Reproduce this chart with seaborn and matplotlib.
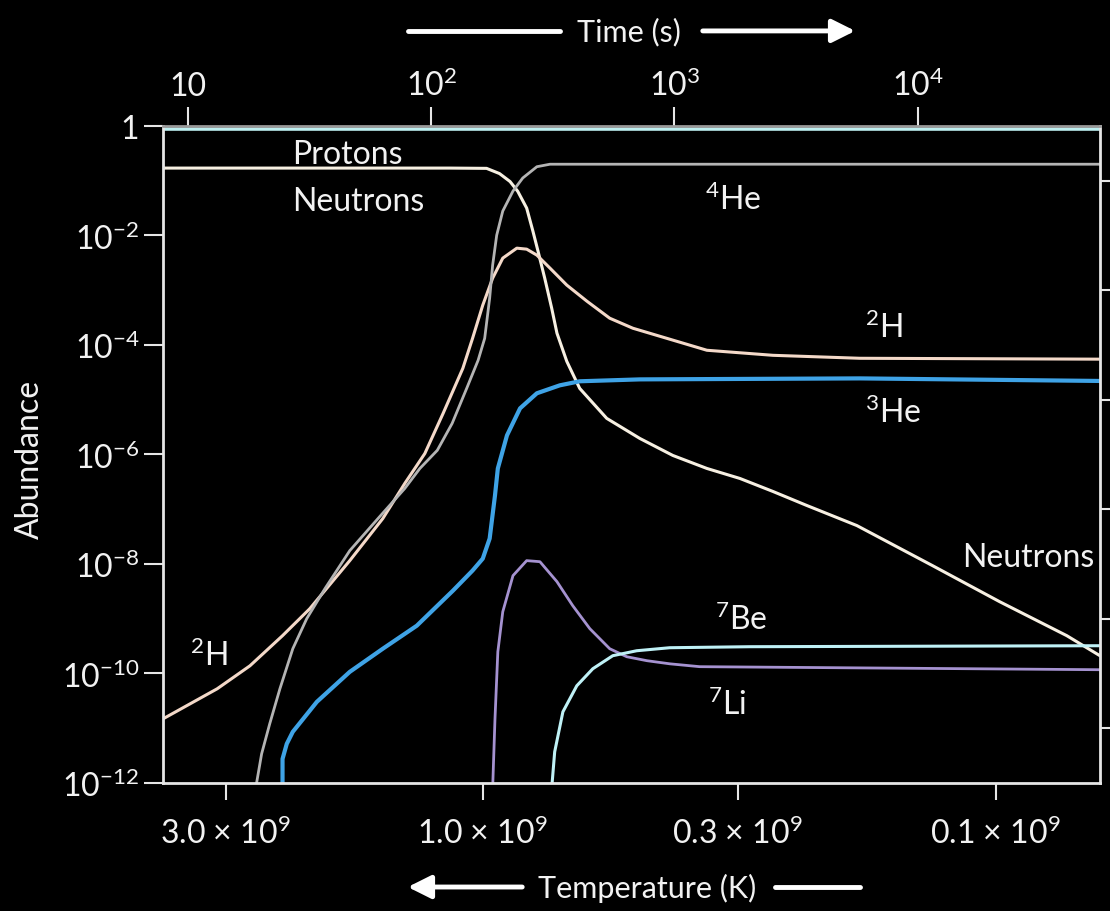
import matplotlib
matplotlib.use("Agg")
import matplotlib.pyplot as plt
import seaborn as sns
import pandas as pd
import numpy as np

# black background, no grid
sns.set_style("dark", {"axes.facecolor": "black", "figure.facecolor": "black",
                       "axes.grid": False})
plt.rcParams['font.family'] = ['Lato', 'DejaVu Sans']
plt.rcParams['mathtext.default'] = 'regular'

# ---- data (time in s, abundance) ----
protons_t = [7.9, 56100]
protons_y = [0.88, 0.88]

neutrons_t = [7.9, 119, 169, 191, 211, 227, 247, 262, 275, 293, 313, 329, 361, 408,
              527, 721, 985, 1360, 1860, 2540, 3500, 5620, 11500, 21700, 41000, 56100]
neutrons_y = [0.17, 0.17, 0.168, 0.135, 0.0966, 0.0640, 0.0316, 0.0120, 5.17e-3,
              1.66e-3, 4.69e-4, 1.64e-4, 5.03e-5, 1.61e-5, 4.56e-6, 1.96e-6, 9.59e-7,
              5.55e-7, 3.64e-7, 2.11e-7, 1.17e-7, 5.03e-8, 9.33e-9, 2.05e-9, 4.90e-10,
              2.11e-10]

h2_t = [7.9, 13.2, 18.0, 24.5, 31.7, 46.3, 63.3, 77.9, 94.2, 112, 135, 148, 163, 179,
        197, 225, 247, 272, 308, 361, 437, 542, 675, 1360, 2540, 5780, 56100]
h2_y = [1.48e-11, 5.25e-11, 1.38e-10, 4.90e-10, 1.52e-9, 1.15e-8, 6.76e-8, 2.95e-7,
        1.04e-6, 5.62e-6, 3.74e-5, 1.32e-4, 5.32e-4, 1.66e-3, 3.85e-3, 5.86e-3,
        5.62e-3, 4.37e-3, 2.53e-3, 1.24e-3, 6.29e-4, 3.08e-4, 2.02e-4, 8.00e-5,
        6.47e-5, 5.71e-5, 5.50e-5]

he4_t = [19.0, 20.1, 21.7, 23.9, 27.0, 30.8, 36.6, 46.3, 61.5, 77.9, 89.9, 106, 122,
         140, 156, 166, 174, 179, 186, 197, 217, 238, 272, 308, 408, 56100]
he4_y = [8e-13, 3.40e-12, 1.20e-11, 5.25e-11, 2.83e-10, 1.00e-9, 3.54e-9, 1.75e-8,
         7.35e-8, 2.39e-7, 5.55e-7, 1.19e-6, 3.69e-6, 1.61e-5, 5.25e-5, 1.32e-4,
         7.14e-4, 2.87e-3, 0.0101, 0.0279, 0.0647, 0.112, 0.180, 0.200, 0.200, 0.200]

he3_t = [24.5, 24.5, 25.5, 27.0, 33.9, 46.3, 63.3, 87.3, 123, 148, 163, 174, 183, 188,
         205, 232, 272, 338, 408, 721, 5780, 56100]
he3_y = [8e-13, 2.75e-12, 5.18e-12, 8.59e-12, 3.03e-11, 1.07e-10, 2.83e-10, 7.45e-10,
         3.26e-9, 7.57e-9, 1.25e-8, 2.91e-8, 1.78e-7, 5.55e-7, 2.23e-6, 6.95e-6,
         1.31e-5, 1.83e-5, 2.17e-5, 2.35e-5, 2.45e-5, 2.2e-5]

li7_t = [179, 183, 188, 197, 217, 247, 280, 329, 382, 449, 542, 637, 771, 957, 1270,
         56100]
li7_y = [8e-13, 1.48e-11, 2.49e-10, 1.34e-9, 6.12e-9, 1.15e-8, 1.10e-8, 4.75e-9,
         1.73e-9, 6.58e-10, 2.83e-10, 2.02e-10, 1.71e-10, 1.50e-10, 1.33e-10, 1.17e-10]

be7_t = [313, 322, 348, 397, 462, 558, 700, 957, 2040, 56100]
be7_y = [8e-13, 3.70e-12, 1.99e-11, 5.96e-11, 1.22e-10, 2.11e-10, 2.60e-10, 2.95e-10,
         3.08e-10, 3.21e-10]

time_ticks = [10, 100, 1000, 10000]
time_labels = ['10', '10$^2$', '10$^3$', '10$^4$']
temp_tick_times = [14.3, 163, 1820, 20900]
temp_labels = ['3.0 \u00d7 10$^9$', '1.0 \u00d7 10$^9$', '0.3 \u00d7 10$^9$', '0.1 \u00d7 10$^9$']

curves = {
    'Protons': (protons_t, protons_y, '#bdeff0', 2.6),
    'Neutrons': (neutrons_t, neutrons_y, '#f7f0e2', 2.2),
    '2H': (h2_t, h2_y, '#f4d9c9', 2.2),
    '4He': (he4_t, he4_y, '#b4b4b4', 2.0),
    '3He': (he3_t, he3_y, '#3fa3e6', 3.0),
    '7Li': (li7_t, li7_y, '#a592d0', 2.0),
    '7Be': (be7_t, be7_y, '#bff1f6', 2.2),
}

rows = []
for name, (t, y, c, lw) in curves.items():
    for ti, yi in zip(t, y):
        rows.append({'species': name, 'time': ti, 'abundance': yi})
df = pd.DataFrame(rows)

fig = plt.figure(figsize=(11.1, 9.12), dpi=100)
fig.patch.set_facecolor('black')
ax = fig.add_axes([0.1468, 0.1404, 0.8441, 0.7204])
ax.set_facecolor('black')

for name, (t, y, c, lw) in curves.items():
    sns.lineplot(data=df[df['species'] == name], x='time', y='abundance',
                 color=c, linewidth=lw, estimator=None, sort=False, ax=ax)
for line in ax.get_lines():
    line.set_solid_joinstyle('round')

ax.set_xscale('log')
ax.set_yscale('log')
ax.set_xlim(7.9, 56100)
ax.set_ylim(1e-12, 1)
ax.set_xlabel('')
ax.set_ylabel('')

txt = '#f2f2f2'
for side in ['left', 'bottom', 'right']:
    ax.spines[side].set_color('#e6e6e6')
    ax.spines[side].set_linewidth(2)
ax.spines['top'].set_color('#9a9a9a')
ax.spines['top'].set_linewidth(2)

# left ticks: even decades
ax.set_yticks([10.0 ** k for k in range(0, -13, -2)])
ax.set_yticklabels(['1'] + ['10$^{-%d}$' % k for k in range(2, 13, 2)])
ax.set_xticks(temp_tick_times)
ax.set_xticklabels(temp_labels)
ax.minorticks_off()
ax.tick_params(axis='y', which='major', direction='out', length=14, width=1.5,
               color='#e6e6e6', labelcolor=txt, labelsize=23, pad=3, left=True)
ax.tick_params(axis='x', which='major', direction='out', length=12, width=1.5,
               color='#e6e6e6', labelcolor=txt, labelsize=23, pad=12, bottom=True)

# top: time axis
top = ax.secondary_xaxis('top')
top.set_xticks(time_ticks)
top.set_xticklabels(time_labels)
top.xaxis.set_minor_locator(matplotlib.ticker.NullLocator())
top.tick_params(direction='out', length=14, width=1.5, color='#e6e6e6',
                labelcolor=txt, labelsize=23, pad=4)
top.spines['top'].set_visible(False)

# right: odd decades, no labels
right = ax.secondary_yaxis('right')
right.set_yticks([10.0 ** k for k in range(-1, -12, -2)])
right.set_yticklabels([])
right.yaxis.set_minor_locator(matplotlib.ticker.NullLocator())
right.tick_params(direction='out', length=7, width=1.5, color='#e6e6e6')
right.spines['right'].set_visible(False)

fig.text(0.027, 0.496, 'Abundance', rotation=90, ha='center', va='center',
         color=txt, fontsize=23)

# curve labels
lab = dict(transform=ax.transAxes, color=txt, fontsize=23, va='center', ha='left')
ax.text(0.138, 0.957, 'Protons', **lab)
ax.text(0.138, 0.886, 'Neutrons', **lab)
ax.text(0.578, 0.889, '$^4$He', **lab)
ax.text(0.749, 0.694, '$^2$H', **lab)
ax.text(0.749, 0.565, '$^3$He', **lab)
ax.text(0.853, 0.344, 'Neutrons', **lab)
ax.text(0.589, 0.250, '$^7$Be', **lab)
ax.text(0.582, 0.120, '$^7$Li', **lab)
ax.text(0.029, 0.196, '$^2$H', **lab)

# axis titles with arrows
fig.text(0.567, 0.965, 'Time (s)', ha='center', va='center', color=txt, fontsize=22)
fig.add_artist(matplotlib.lines.Line2D([408 / 1110, 560 / 1110], [0.965, 0.965],
                                       color='white', lw=3.5))
fig.add_artist(matplotlib.patches.FancyArrowPatch((700 / 1110, 0.965), (858 / 1110, 0.965),
                                                  transform=fig.transFigure, arrowstyle='-|>',
                                                  mutation_scale=35, color='white', lw=3.5))
fig.text(0.5833, 0.0263, 'Temperature (K)', ha='center', va='center', color=txt, fontsize=22)
fig.add_artist(matplotlib.patches.FancyArrowPatch((525 / 1110, 0.0263), (405 / 1110, 0.0263),
                                                  transform=fig.transFigure, arrowstyle='-|>',
                                                  mutation_scale=35, color='white', lw=3.5))
fig.add_artist(matplotlib.lines.Line2D([775 / 1110, 860 / 1110], [0.0263, 0.0263],
                                       color='white', lw=3.5))

fig.savefig('out.png', dpi=100, facecolor='black')
